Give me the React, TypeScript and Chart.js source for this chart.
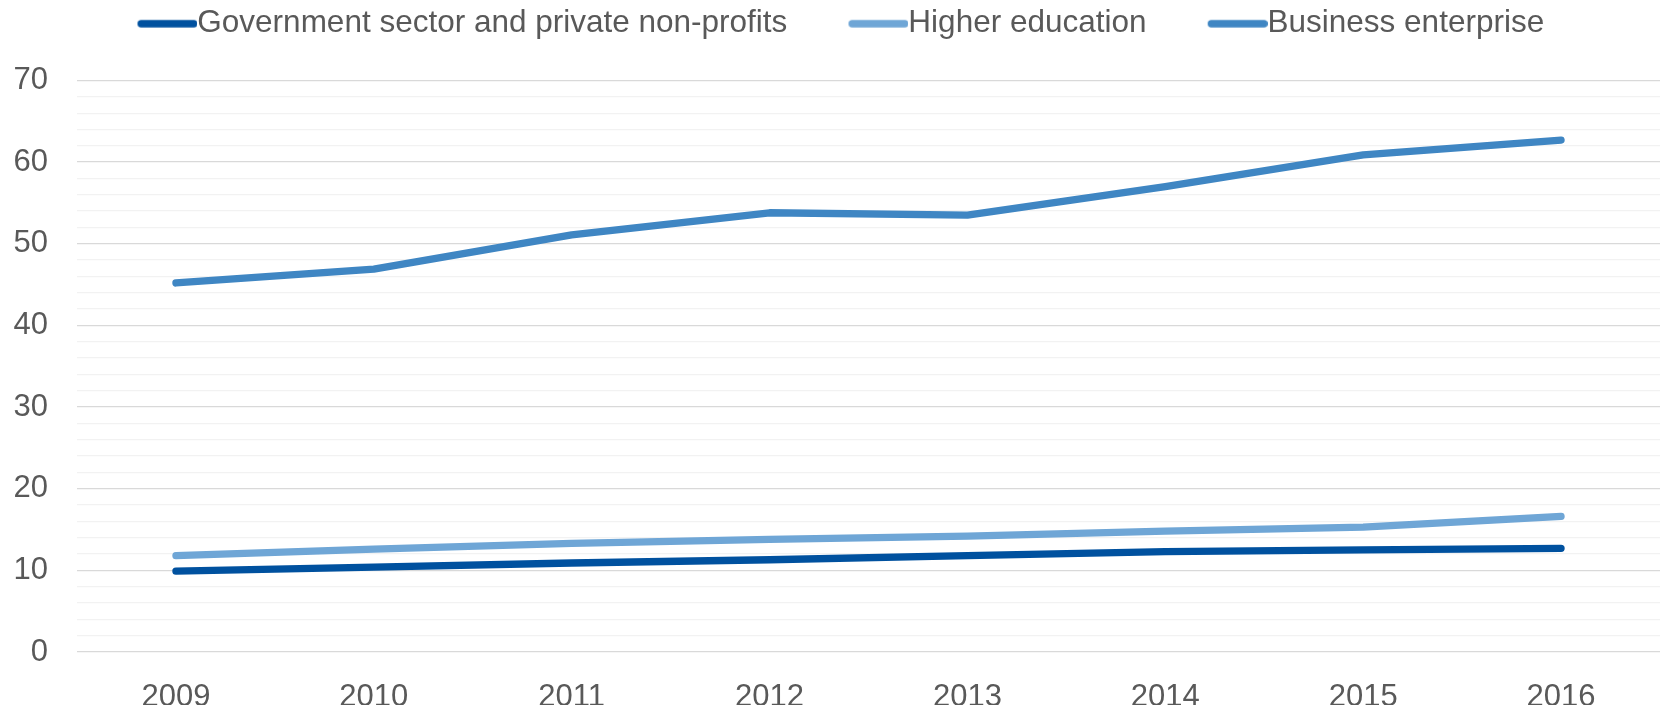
import React, { useEffect, useRef } from "react";
import { Chart, registerables } from "chart.js";

Chart.register(...registerables);

const years = ["2009", "2010", "2011", "2012", "2013", "2014", "2015", "2016"];
const govValues = [9.9, 10.4, 10.9, 11.3, 11.8, 12.3, 12.5, 12.7];
const higherEdValues = [11.8, 12.6, 13.3, 13.8, 14.2, 14.8, 15.3, 16.6];
const businessValues = [45.2, 46.9, 51.1, 53.8, 53.5, 57.0, 60.9, 62.7];
const seriesNames = [
  "Government sector and private non-profits",
  "Higher education",
  "Business enterprise",
];
const seriesColors = ["#00519f", "#6fa6d6", "#3f86c3"];
const yTickStep = 10;

const FONT = "'Liberation Sans', Arial, sans-serif";
const FS = 31;
const LFS = 31.5;
const LINE_W = 7.3;
const MARK_LEN = 60;
const LEG_PAD = 8;
const EXTRA = 53;
const BOX_W = MARK_LEN + EXTRA - LFS / 2;

function makeMarker(color: string): HTMLCanvasElement {
  const c = document.createElement("canvas");
  const w = Math.round(BOX_W + LFS);
  c.width = w;
  c.height = 12;
  const g = c.getContext("2d")!;
  g.strokeStyle = color;
  g.lineWidth = LINE_W;
  g.lineCap = "round";
  g.beginPath();
  g.moveTo(w - MARK_LEN + LINE_W / 2, 6);
  g.lineTo(w - LINE_W / 2, 6);
  g.stroke();
  return c;
}

export default function App() {
  const ref = useRef<HTMLCanvasElement | null>(null);
  useEffect(() => {
    if (!ref.current) return;
    const markers = seriesColors.map(makeMarker);
    const values = [govValues, higherEdValues, businessValues];
    const chart = new Chart(ref.current, {
      type: "line",
      data: {
        labels: years,
        datasets: values.map((v, i) => ({
          label: seriesNames[i],
          data: v,
          borderColor: seriesColors[i],
          backgroundColor: seriesColors[i],
          borderWidth: LINE_W,
          borderCapStyle: "round" as const,
          borderJoinStyle: "round" as const,
          pointRadius: 0,
          tension: 0,
        })),
      },
      options: {
        animation: false,
        responsive: false,
        devicePixelRatio: 1,
        layout: { padding: { left: 0, right: 1, top: 0, bottom: 0 } },
        plugins: {
          tooltip: { enabled: false },
          legend: {
            position: "top",
            labels: {
              usePointStyle: true,
              pointStyleWidth: BOX_W,
              padding: LEG_PAD,
              color: "#595959",
              font: { family: FONT, size: LFS },
              generateLabels: (ch: any) => {
                const items = Chart.defaults.plugins.legend.labels.generateLabels(ch);
                items.forEach((it: any, i: number) => {
                  it.pointStyle = markers[i];
                  if (i === items.length - 1) it.text = it.text + "\u2003";
                });
                return items;
              },
            },
          },
        },
        scales: {
          x: {
            offset: true,
            grid: { display: false },
            border: { display: false },
            afterFit: (s: any) => {
              s.height = 53;
            },
            ticks: {
              color: "#595959",
              font: { family: FONT, size: FS },
              padding: 19,
              maxRotation: 0,
            },
          },
          spacer: {
            type: "category",
            position: "top",
            grid: { display: false },
            border: { display: false },
            ticks: { display: false },
            afterFit: (s: any) => {
              s.height = 31;
            },
          },
          y: {
            min: 0,
            max: 70,
            border: { display: false },
            afterFit: (s: any) => {
              s.width = 77;
            },
            grid: {
              drawTicks: false,
              lineWidth: 1.3,
              color: (ctx: any) =>
                ctx.tick && ctx.tick.value % yTickStep === 0 ? "#d9d9d9" : "#f2f2f2",
            },
            ticks: {
              stepSize: 2,
              autoSkip: false,
              padding: 29,
              color: "#595959",
              font: { family: FONT, size: FS },
              callback: (v: any) => (Number(v) % yTickStep === 0 ? String(v) : ""),
            },
          },
        },
      },
    } as any);
    return () => chart.destroy();
  }, []);
  return (
    <div style={{ position: "absolute", left: 0, top: 0, width: 1661, height: 705, background: "#fff" }}>
      <canvas ref={ref} width={1661} height={705} />
    </div>
  );
}
